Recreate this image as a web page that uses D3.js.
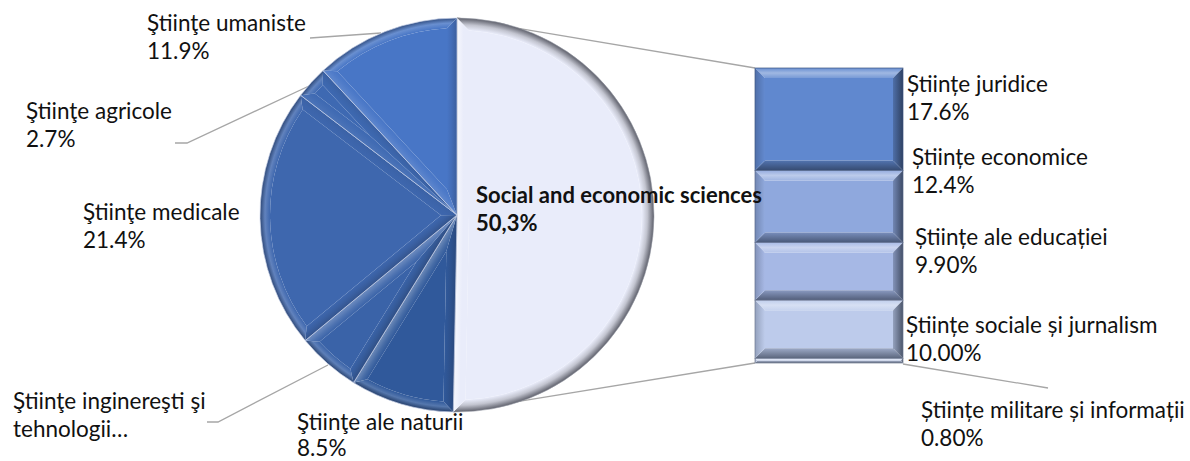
<!DOCTYPE html>
<html>
<head>
<meta charset="utf-8">
<script src="https://cdn.jsdelivr.net/npm/d3@7"></script>
<style>
  body { margin: 0; background: #fff; }
  svg { display: block; }
  text { font-family: Lato, "Open Sans", sans-serif; fill: #111; }
</style>
</head>
<body>
<svg id="chart" width="1190" height="461"></svg>
<script>
// Pie slices, clockwise from 12 o'clock
const pieNames = ["Social and economic sciences", "Ştiinţe ale naturii", "Ştiinţe inginereşti şi tehnologii", "Ştiinţe medicale", "Ştiinţe agricole", "Ştiinţe umaniste"];
const pieValues = [50.3, 8.5, 5.2, 21.4, 2.7, 11.9];
const pieLabelLines = [
  ["Social and economic sciences", "50,3%"],
  ["Ştiinţe ale naturii", "8.5%"],
  ["Ştiinţe inginereşti şi", "tehnologii…"],
  ["Ştiinţe medicale", "21.4%"],
  ["Ştiinţe agricole", "2.7%"],
  ["Ştiinţe umaniste", "11.9%"]
];
const pieColors = ["#e9ecfa", "#30599b", "#3a63a8", "#3e67ae", "#3e69b2", "#4876c6"];

// Breakdown of the first slice, top to bottom
const barNames = ["Științe juridice", "Științe economice", "Științe ale educației", "Științe sociale și jurnalism", "Științe militare și informații"];
const barValues = [17.6, 12.4, 9.9, 10.0, 0.8];
const barLabelLines = [
  ["Științe juridice", "17.6%"],
  ["Științe economice", "12.4%"],
  ["Științe ale educației", "9.90%"],
  ["Științe sociale și jurnalism", "10.00%"],
  ["Științe militare și informații", "0.80%"]
];
const barColors = ["#6088cf", "#8fa8dd", "#a6b8e5", "#bdcbeb", "#c8d3ef"];

// ---- layout ----
const cx = 457, cy = 215, R = 197;
const barX0 = 755, barX1 = 903, barTop = 68, barBottom = 363;
// [x, first baseline, line height, bold]
const pieLabelPos = [[476, 203, 28, true], [297, 430, 26], [13, 409, 28], [83, 220, 28], [26, 119, 28], [147, 31, 28]];
const barLabelPos = [[907, 92, 28], [912, 165, 28], [915, 245, 28], [906, 333, 28], [921, 418, 28]];
const leaders = [
  [[310, 38], [381, 33]],                 // umaniste
  [[175, 143], [187, 143], [309, 86]],    // agricole
  [[207, 422], [218, 422], [328, 365]],   // inginereşti
  [[903, 364], [1048, 388]]               // militare
];

const svg = d3.select("#chart");
const defs = svg.append("defs");
const lineColor = "#a6a6a6";

function shade(c, k) {
  return k >= 0 ? d3.interpolateRgb(c, "#ffffff")(k) : d3.interpolateRgb(c, "#1a2233")(-k);
}
let gradN = 0;
function linGrad(x1, y1, x2, y2, stops) {
  const id = "lg" + (gradN++);
  const g = defs.append("linearGradient").attr("id", id).attr("gradientUnits", "userSpaceOnUse")
    .attr("x1", x1).attr("y1", y1).attr("x2", x2).attr("y2", y2);
  stops.forEach(([o, c]) => g.append("stop").attr("offset", o).attr("stop-color", c));
  return `url(#${id})`;
}

// ---- pie geometry ----
const pie = d3.pie().sort(null).value(d => d).startAngle(0).endAngle(2 * Math.PI);
const arcs = pie(pieValues);
const pt = (rad, a) => [cx + rad * Math.sin(a), cy - rad * Math.cos(a)];

// connector lines from the pie split to the stacked bar (behind everything)
const yBar = d3.scaleLinear().domain([0, d3.sum(barValues)]).range([barTop, barBottom]);
const first = arcs[0];
svg.append("line").attr("x1", pt(R, first.startAngle)[0]).attr("y1", pt(R, first.startAngle)[1])
  .attr("x2", barX0).attr("y2", yBar(0)).attr("stroke", lineColor).attr("stroke-width", 1.3);
svg.append("line").attr("x1", pt(R, first.endAngle)[0]).attr("y1", pt(R, first.endAngle)[1])
  .attr("x2", barX0).attr("y2", yBar(d3.sum(barValues))).attr("stroke", lineColor).attr("stroke-width", 1.3);

// leader lines
leaders.forEach(pts => {
  svg.append("path").attr("d", d3.line()(pts)).attr("fill", "none")
    .attr("stroke", lineColor).attr("stroke-width", 1.3);
});

// bevelled wedges
const gPie = svg.append("g");
arcs.forEach((a, i) => {
  const base = pieColors[i];
  const light = i === 0;
  const b = light ? 12 : 10;
  const a0 = a.startAngle, a1 = a.endAngle;
  const th = a1 - a0;
  const am = (a0 + a1) / 2;
  const R2 = R - b;
  const del = Math.asin(b / R2);
  const apex = pt(b / Math.sin(th / 2), am);
  const q = -Math.PI / 2;

  // rim gradient: lighter inside, darker toward the edge
  const gid = "rim" + i;
  const rg = defs.append("radialGradient").attr("id", gid).attr("gradientUnits", "userSpaceOnUse")
    .attr("cx", cx).attr("cy", cy).attr("r", R);
  const f = R2 / R;
  if (light) {
    rg.append("stop").attr("offset", f).attr("stop-color", base);
    rg.append("stop").attr("offset", f + (1 - f) * 0.45).attr("stop-color", "#c2c4cf");
    rg.append("stop").attr("offset", 1).attr("stop-color", "#5d5f6a");
  } else {
    rg.append("stop").attr("offset", f).attr("stop-color", base);
    rg.append("stop").attr("offset", f + (1 - f) * 0.5).attr("stop-color", shade(base, 0.18));
    rg.append("stop").attr("offset", 1).attr("stop-color", shade(base, -0.45));
  }

  // rim facet
  const pr = d3.path();
  pr.moveTo(...pt(R, a0));
  pr.arc(cx, cy, R, a0 + q, a1 + q, false);
  pr.lineTo(...pt(R2, a1 - del));
  pr.arc(cx, cy, R2, a1 - del + q, a0 + del + q, true);
  pr.closePath();

  // inner face
  const pf = d3.path();
  pf.moveTo(...apex);
  pf.lineTo(...pt(R2, a0 + del));
  pf.arc(cx, cy, R2, a0 + del + q, a1 - del + q, false);
  pf.closePath();

  // straight edge facets, lit from the upper left, fading inward
  const L = [-0.7, -0.3];
  const nS = [Math.sin(a0 - Math.PI / 2), -Math.cos(a0 - Math.PI / 2)];
  const nE = [Math.sin(a1 + Math.PI / 2), -Math.cos(a1 + Math.PI / 2)];
  const kS = nS[0] * L[0] + nS[1] * L[1];
  const kE = nE[0] * L[0] + nE[1] * L[1];
  const ps = d3.path();
  ps.moveTo(cx, cy); ps.lineTo(...pt(R, a0)); ps.lineTo(...pt(R2, a0 + del)); ps.lineTo(...apex); ps.closePath();
  const pe = d3.path();
  pe.moveTo(cx, cy); pe.lineTo(...apex); pe.lineTo(...pt(R2, a1 - del)); pe.lineTo(...pt(R, a1)); pe.closePath();

  const edgeFill = (n, k) => {
    const edgeCol = light ? (k < 0 ? "#9fa1ac" : "#f6f7fd") : shade(base, k * 0.4);
    const midCol = light ? base : shade(base, k * 0.15);
    return linGrad(cx, cy, cx - n[0] * b, cy - n[1] * b, [[0, edgeCol], [0.55, midCol], [1, base]]);
  };

  const g = gPie.append("g");
  g.append("path").attr("d", pf.toString()).attr("fill", base);
  g.append("path").attr("d", pr.toString()).attr("fill", `url(#${gid})`);
  g.append("path").attr("d", ps.toString()).attr("fill", edgeFill(nS, kS));
  g.append("path").attr("d", pe.toString()).attr("fill", edgeFill(nE, kE));
  // slice outline
  const po = d3.path();
  po.moveTo(cx, cy); po.lineTo(...pt(R, a0)); po.arc(cx, cy, R, a0 + q, a1 + q, false); po.closePath();
  g.append("path").attr("d", po.toString()).attr("fill", "none")
    .attr("stroke", light ? "#9ea1ad" : "#c9d3e8").attr("stroke-width", light ? 0.8 : 0.9)
    .attr("stroke-opacity", light ? 0.7 : 0.75);
});

// ---- stacked bar ----
const gBar = svg.append("g");
let acc = 0;
barValues.forEach((v, i) => {
  const y0 = yBar(acc), y1 = yBar(acc + v);
  acc += v;
  const x0 = barX0, x1 = barX1;
  const base = barColors[i];
  const b = Math.min(10, (y1 - y0) / 2);
  const poly = p => "M" + p.map(d => d.join(",")).join("L") + "Z";
  const g = gBar.append("g");
  g.append("path").attr("d", poly([[x0 + b, y0 + b], [x1 - b, y0 + b], [x1 - b, y1 - b], [x0 + b, y1 - b]])).attr("fill", base);
  g.append("path").attr("d", poly([[x0, y0], [x1, y0], [x1 - b, y0 + b], [x0 + b, y0 + b]]))
    .attr("fill", linGrad(0, y0, 0, y0 + b, [[0, shade(base, 0.05)], [0.5, shade(base, 0.4)], [1, shade(base, 0.15)]]));
  g.append("path").attr("d", poly([[x0, y1], [x1, y1], [x1 - b, y1 - b], [x0 + b, y1 - b]]))
    .attr("fill", linGrad(0, y1, 0, y1 - b, [[0, shade(base, -0.6)], [1, shade(base, -0.2)]]));
  g.append("path").attr("d", poly([[x0, y0], [x0 + b, y0 + b], [x0 + b, y1 - b], [x0, y1]]))
    .attr("fill", linGrad(x0, 0, x0 + b, 0, [[0, shade(base, -0.25)], [1, shade(base, 0.02)]]));
  g.append("path").attr("d", poly([[x1, y0], [x1 - b, y0 + b], [x1 - b, y1 - b], [x1, y1]]))
    .attr("fill", linGrad(x1, 0, x1 - b, 0, [[0, shade(base, -0.7)], [1, shade(base, -0.25)]]));
  g.append("rect").attr("x", x0).attr("y", y0).attr("width", x1 - x0).attr("height", y1 - y0)
    .attr("fill", "none").attr("stroke", shade(base, -0.5)).attr("stroke-width", 0.7);
});

// ---- labels ----
const fs = 22.5;
function label(lines, pos) {
  const [x, y, lh, bold] = pos;
  const t = svg.append("text").attr("x", x).attr("y", y)
    .style("font-size", (bold ? 22 : fs) + "px").style("font-weight", bold ? 700 : 400);
  lines.forEach((s, k) => t.append("tspan").attr("x", x).attr("y", y + k * lh).text(s));
}
pieLabelLines.forEach((l, i) => label(l, pieLabelPos[i]));
barLabelLines.forEach((l, i) => label(l, barLabelPos[i]));
</script>
</body>
</html>
